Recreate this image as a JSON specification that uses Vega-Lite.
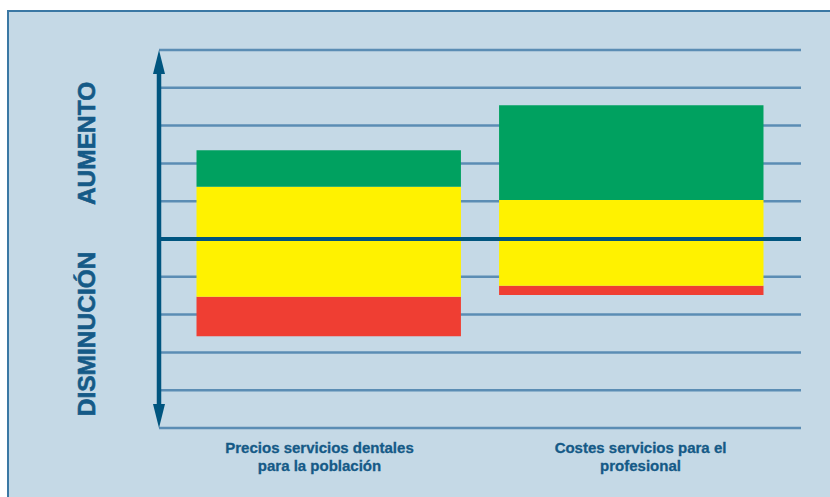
{
  "$schema": "https://vega.github.io/schema/vega-lite/v6.json",
  "width": 825,
  "height": 489,
  "autosize": {"type": "none"},
  "padding": {"left": 8, "top": 11, "right": -3, "bottom": -3},
  "background": "#ffffff",
  "config": {
    "view": {"fill": "#c5d9e6", "stroke": "#3b78a4", "strokeWidth": 2},
    "font": "Liberation Sans"
  },
  "datasets": {
    "bars": [
      {"cat": "Precios servicios dentales|para la población", "seg": "Disminuye", "lo": -2.57, "hi": -1.53},
      {"cat": "Precios servicios dentales|para la población", "seg": "Igual", "lo": -1.53, "hi": 1.38},
      {"cat": "Precios servicios dentales|para la población", "seg": "Aumenta", "lo": 1.38, "hi": 2.35},
      {"cat": "Costes servicios para el|profesional", "seg": "Disminuye", "lo": -1.48, "hi": -1.24},
      {"cat": "Costes servicios para el|profesional", "seg": "Igual", "lo": -1.24, "hi": 1.03},
      {"cat": "Costes servicios para el|profesional", "seg": "Aumenta", "lo": 1.03, "hi": 3.54}
    ],
    "grid": [{"v": -5}, {"v": -4}, {"v": -3}, {"v": -2}, {"v": -1}, {"v": 1}, {"v": 2}, {"v": 3}, {"v": 4}, {"v": 5}]
  },
  "resolve": {"scale": {"x": "independent"}, "axis": {"x": "independent"}},
  "layer": [
    {
      "data": {"name": "grid"},
      "mark": {"type": "rule", "color": "#5b8db4", "strokeWidth": 2.5},
      "encoding": {
        "y": {"field": "v", "type": "quantitative", "scale": {"domain": [-5, 5], "range": [417, 39]}, "axis": null},
        "x": {"datum": 0, "type": "quantitative", "scale": {"domain": [0, 1], "range": [151, 793]}, "axis": null},
        "x2": {"datum": 1}
      }
    },
    {
      "data": {"name": "bars"},
      "mark": {"type": "bar"},
      "encoding": {
        "x": {"field": "cat", "type": "nominal", "scale": {"domain": ["Precios servicios dentales|para la población", "Costes servicios para el|profesional"], "range": [151, 793], "paddingInner": 0.126, "paddingOuter": 0.124}, "axis": null},
        "y": {"field": "lo", "type": "quantitative", "scale": {"domain": [-5, 5], "range": [417, 39]}, "axis": null},
        "y2": {"field": "hi"},
        "color": {"field": "seg", "type": "nominal", "scale": {"domain": ["Aumenta", "Igual", "Disminuye"], "range": ["#00a160", "#fff200", "#ef3e33"]}, "legend": null}
      }
    },
    {
      "data": {"values": [{}]},
      "mark": {"type": "rule", "color": "#00557f", "strokeWidth": 4},
      "encoding": {
        "y": {"datum": 0, "type": "quantitative", "scale": {"domain": [-5, 5], "range": [417, 39]}, "axis": null},
        "x": {"datum": 0, "type": "quantitative", "scale": {"domain": [0, 1], "range": [151, 793]}, "axis": null},
        "x2": {"datum": 1}
      }
    },
    {
      "data": {"values": [{}]},
      "mark": {"type": "rule", "color": "#00557f", "strokeWidth": 4.5},
      "encoding": {
        "x": {"datum": 0, "type": "quantitative", "scale": {"domain": [0, 1], "range": [151, 793]}, "axis": null},
        "y": {"datum": -4.6, "type": "quantitative", "scale": {"domain": [-5, 5], "range": [417, 39]}, "axis": null},
        "y2": {"datum": 4.6}
      }
    },
    {
      "data": {"values": [{}]},
      "mark": {"type": "point", "shape": "M0,0L-1,4L1,4Z", "filled": true, "opacity": 1, "color": "#00557f", "size": 144},
      "encoding": {
        "x": {"datum": 0, "type": "quantitative", "scale": {"domain": [0, 1], "range": [151, 793]}, "axis": null},
        "y": {"datum": 5, "type": "quantitative", "scale": {"domain": [-5, 5], "range": [417, 39]}, "axis": null}
      }
    },
    {
      "data": {"values": [{}]},
      "mark": {"type": "point", "shape": "M0,0L-1,-4L1,-4Z", "filled": true, "opacity": 1, "color": "#00557f", "size": 144},
      "encoding": {
        "x": {"datum": 0, "type": "quantitative", "scale": {"domain": [0, 1], "range": [151, 793]}, "axis": null},
        "y": {"datum": -5, "type": "quantitative", "scale": {"domain": [-5, 5], "range": [417, 39]}, "axis": null}
      }
    },
    {
      "data": {"name": "bars"},
      "transform": [{"filter": "datum.seg === 'Igual'"}],
      "mark": {"type": "text", "lineBreak": "|", "fontSize": 15, "fontWeight": "bold", "color": "#155a87", "stroke": "#155a87", "strokeWidth": 0.3, "align": "center", "baseline": "alphabetic", "dy": 25, "lineHeight": 18},
      "encoding": {
        "x": {"field": "cat", "type": "nominal", "scale": {"domain": ["Precios servicios dentales|para la población", "Costes servicios para el|profesional"], "range": [151, 793], "paddingInner": 0.126, "paddingOuter": 0.124}, "axis": null},
        "y": {"datum": -5, "type": "quantitative", "scale": {"domain": [-5, 5], "range": [417, 39]}, "axis": null},
        "text": {"field": "cat", "type": "nominal"}
      }
    },
    {
      "data": {"values": [{}]},
      "mark": {"type": "text", "text": "AUMENTO", "angle": 270, "fontSize": 24.5, "fontWeight": "bold", "color": "#155a87", "stroke": "#155a87", "strokeWidth": 0.6, "align": "center", "baseline": "middle"},
      "encoding": {
        "x": {"datum": -0.111, "type": "quantitative", "scale": {"domain": [0, 1], "range": [151, 793]}, "axis": null},
        "y": {"datum": 2.53, "type": "quantitative", "scale": {"domain": [-5, 5], "range": [417, 39]}, "axis": null}
      }
    },
    {
      "data": {"values": [{}]},
      "mark": {"type": "text", "text": "DISMINUCIÓN", "angle": 270, "fontSize": 24.5, "fontWeight": "bold", "color": "#155a87", "stroke": "#155a87", "strokeWidth": 0.6, "align": "center", "baseline": "middle"},
      "encoding": {
        "x": {"datum": -0.111, "type": "quantitative", "scale": {"domain": [0, 1], "range": [151, 793]}, "axis": null},
        "y": {"datum": -2.51, "type": "quantitative", "scale": {"domain": [-5, 5], "range": [417, 39]}, "axis": null}
      }
    }
  ]
}
